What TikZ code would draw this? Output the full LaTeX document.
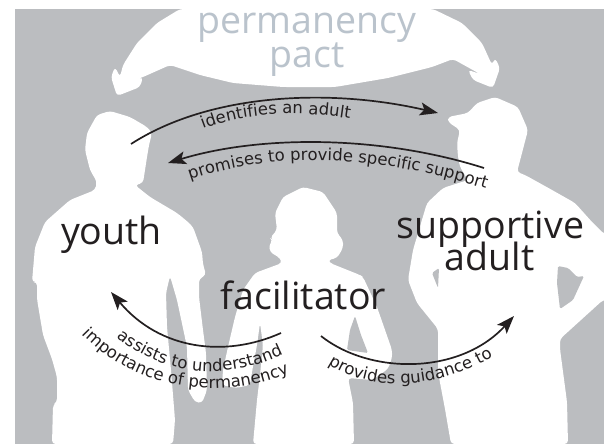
\documentclass[tikz,border=0pt]{standalone}
\usepackage{fontspec}
\setmainfont{Open Sans}
\newfontfamily\arcfont{DejaVu Sans}
\usetikzlibrary{arrows.meta,decorations.text}
\definecolor{panel}{HTML}{BBBDC0}
\definecolor{ink}{HTML}{231F20}
\definecolor{pactblue}{HTML}{BAC3CC}
\newcommand{\arcfs}{\arcfont\fontsize{16.5}{16.5}\selectfont}
\tikzset{
  figure/.style={fill=white,rounded corners=3.5pt},
  gap/.style={fill=panel,rounded corners=1.5pt},
  bigtext/.style={text=ink,inner sep=0pt,anchor=base,font=\fontsize{37.5}{37.5}\selectfont},
  pacttext/.style={text=pactblue,inner sep=0pt,anchor=base,font=\fontsize{37.5}{37.5}\selectfont},
  flow/.style={draw=ink,line width=1.7pt,-{Stealth[length=18pt,width=13pt,inset=4pt]}},
  arctext/.style={decorate,decoration={text along path,text align={left},text={|\arcfs\color{ink}|#1}}}
}
\begin{document}
\begin{tikzpicture}[x=1pt,y=-1pt]
\useasboundingbox (0,0) rectangle (610,444);
\fill[panel] (15,9.5) rectangle (604,444);
% pact
\fill[figure] (180,9) -- (157,23) -- (137,43) -- (123,65) -- (120,77) -- (115,67) -- (111,77) -- (117,96) -- (140,87) -- (143,77) -- (130,82) -- (143,77) -- (170,65) -- (200,75) -- (233,83) -- (283,87) -- (335,87) -- (388,78) -- (432,67) -- (453,59) -- (480,74) -- (468,70) -- (473,80) -- (493,88) -- (500,68) -- (495,58) -- (492,65) -- (482,43) -- (462,23) -- (433,9) -- cycle;
% youth
\fill[figure] (110,111) -- (130,117) -- (147,127) -- (152,133) -- (149,145) -- (147,157) -- (145,170) -- (143,183) -- (135,185) -- (150,197) -- (177,213) -- (188,222) -- (193,227) -- (202,252) -- (203,264) -- (206,275) -- (199,279) -- (199,297) -- (203,330) -- (206,353) -- (207,390) -- (202,403) -- (195,402) -- (188,390) -- (187,347) -- (177,300) -- (170,276) -- (166,293) -- (167,327) -- (171,370) -- (175,420) -- (173,444) -- (52,444) -- (53,405) -- (57,402) -- (57,377) -- (52,359) -- (43,335) -- (37,299) -- (37,282) -- (32,282) -- (35,247) -- (45,222) -- (70,200) -- (95,190) -- (97,182) -- (90,170) -- (85,150) -- (87,133) -- (97,115) -- cycle;
% facilitator
\fill[figure] (303,187) -- (323,192) -- (337,213) -- (337,233) -- (343,240) -- (343,248) -- (337,258) -- (328,260) -- (330,263) -- (360,275) -- (363,277) -- (377,307) -- (392,350) -- (392,358) -- (388,369) -- (372,380) -- (348,378) -- (353,403) -- (354,444) -- (253,444) -- (257,400) -- (260,375) -- (263,345) -- (260,323) -- (257,345) -- (252,372) -- (250,385) -- (236,388) -- (222,385) -- (223,370) -- (228,347) -- (235,317) -- (243,290) -- (255,273) -- (282,263) -- (280,258) -- (270,252) -- (269,245) -- (273,240) -- (270,238) -- (277,230) -- (275,213) -- (283,197) -- cycle;
\fill[gap] (355,316) -- (350,330) -- (347,350) -- (368,353) -- (361,335) -- cycle;
% adult
\fill[figure] (495,97) -- (518,107) -- (528,130) -- (522,153) -- (517,172) -- (525,175) -- (552,190) -- (575,203) -- (592,222) -- (604,234) -- (610,234) -- (610,300) -- (603,300) -- (560,339) -- (560,349) -- (567,402) -- (568,444) -- (451,444) -- (445,409) -- (438,372) -- (438,329) -- (417,303) -- (408,280) -- (413,250) -- (427,203) -- (443,188) -- (468,180) -- (460,167) -- (458,157) -- (457,143) -- (460,130) -- (448,122) -- (448,117) -- (468,113) -- (477,103) -- cycle;
\fill[gap] (439,268) -- (432,273) -- (438,288) -- cycle;
\fill[gap] (558,266) -- (568,268) -- (577,277) -- (584,276) -- (573,300) -- (560,309) -- (557,283) -- cycle;
% big text
\node[pacttext] (permanency) at (306.5,34) {permanency};
\node[pacttext] (pact) at (307,67) {pact};
\node[bigtext] (youth) at (111.5,244) {youth};
\node[bigtext] (facilitator) at (303.5,309) {facilitator};
\node[bigtext] (supportive) at (490.5,238) {supportive};
\node[bigtext] (adult) at (489.5,270) {adult};
% arcs
\coordinate (a1s) at (131,144);\coordinate (a1e) at (438,113);
\coordinate (a2s) at (484,168);\coordinate (a2e) at (168,163);
\coordinate (a3s) at (281,333);\coordinate (a3e) at (111,292);
\coordinate (a4s) at (321,336);\coordinate (a4e) at (514,316);
\draw[flow] (a1s) .. controls (210,93) and (330,88) .. (a1e);
\draw[flow] (a2s) .. controls (380,135) and (260,135) .. (a2e);
\draw[flow] (a3s) .. controls (225,358) and (160,350) .. (a3e);
\draw[flow] (a4s) .. controls (370,375) and (460,375) .. (a4e);
% arc labels
\path[arctext={identifies an adult}] (203,129) .. controls (250,111) and (310,108) .. (385,126);
\path[arctext={promises to provide specific support}] (190,180) .. controls (280,149) and (390,153) .. (525,202);
\path[arctext={assists to understand}] (117,337) .. controls (165,377) and (235,385) .. (300,345);
\path[arctext={importance of permanency}] (82,334) .. controls (135,390) and (225,405) .. (300,368);
\path[arctext={provides guidance to}] (328,364) .. controls (375,395) and (450,390) .. (515,342);
\end{tikzpicture}
\end{document}
